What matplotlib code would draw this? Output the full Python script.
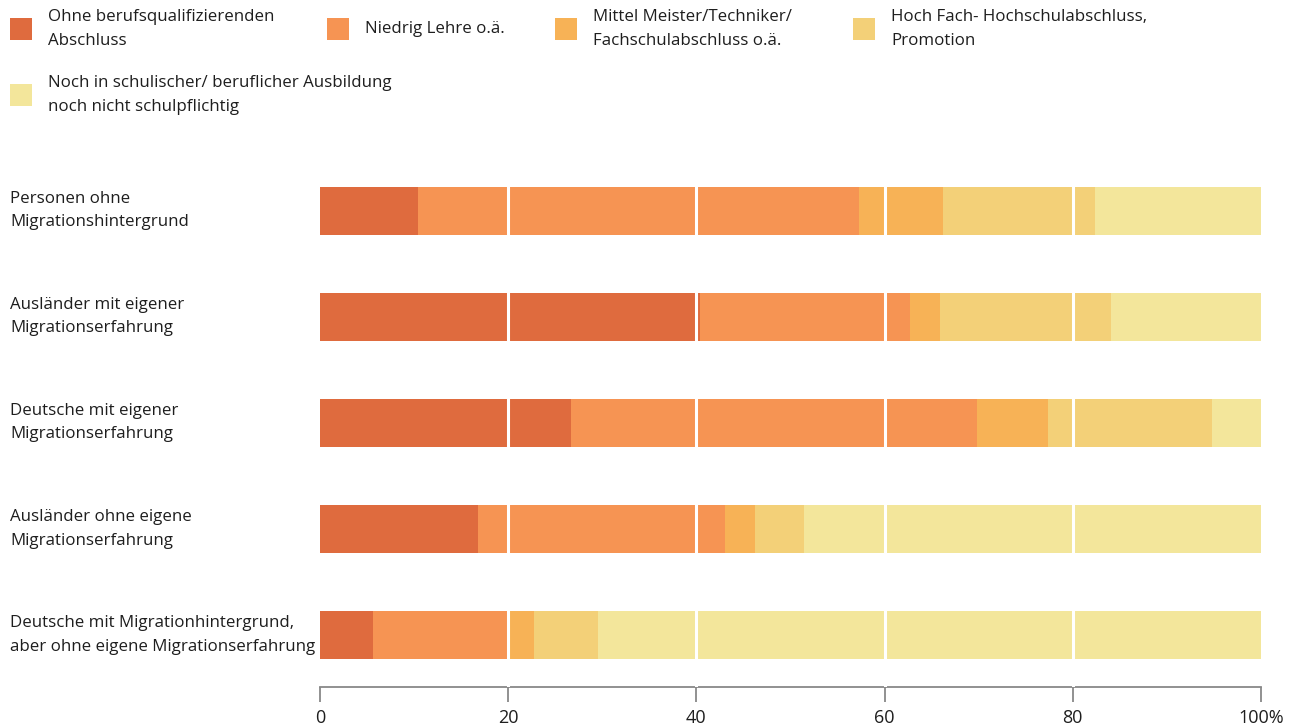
import matplotlib
matplotlib.use("Agg")
import matplotlib.pyplot as plt
from matplotlib.patches import Rectangle

plt.rcParams['font.family'] = ['Open Sans', 'DejaVu Sans']

groups = ["Personen ohne\nMigrationshintergrund",
          "Ausländer mit eigener\nMigrationserfahrung",
          "Deutsche mit eigener\nMigrationserfahrung",
          "Ausländer ohne eigene\nMigrationserfahrung",
          "Deutsche mit Migrationhintergrund,\naber ohne eigene Migrationserfahrung"]
categories = ["Ohne berufsqualifizierenden\nAbschluss",
              "Niedrig Lehre o.ä.",
              "Mittel Meister/Techniker/\nFachschulabschluss o.ä.",
              "Hoch Fach- Hochschulabschluss,\nPromotion",
              "Noch in schulischer/ beruflicher Ausbildung\nnoch nicht schulpflichtig"]
ohne = [10.4, 40.4, 26.7, 16.8, 5.6]
niedrig = [46.9, 22.3, 43.1, 26.2, 14.4]
mittel = [8.9, 3.2, 7.6, 3.2, 2.7]
hoch = [16.2, 18.2, 17.4, 5.2, 6.8]
noch = [17.6, 15.9, 5.2, 48.6, 70.5]
series = [ohne, niedrig, mittel, hoch, noch]
colors = ["#DF6B3E", "#F69453", "#F7B256", "#F3D078", "#F3E69B"]
xticks = [0, 20, 40, 60, 80, 100]
xticklabels = ["0", "20", "40", "60", "80", "100%"]

W, H = 1311, 728
fig = plt.figure(figsize=(W/100, H/100), dpi=100)
ax = fig.add_axes([320/W, 1-687/H, (1261-320)/W, (687-147)/H])

txtcol = "#1e1e1e"
fs = 12.2
left = [0]*len(groups)
for vals, col in zip(series, colors):
    ax.barh(range(len(groups)), vals, left=left, height=0.453, color=col, linewidth=0)
    left = [l + v for l, v in zip(left, vals)]

for x in xticks[1:-1]:
    ax.axvline(x, color="white", linewidth=2.2, zorder=3)

ax.set_xlim(0, 100)
ax.set_ylim(4.49, -0.6)
ax.set_xticks(xticks)
ax.set_xticklabels(xticklabels, fontsize=13, color=txtcol)
ax.tick_params(axis='x', direction='out', length=11, width=1.3, color="#888888", pad=5)
ax.set_yticks([])
for s in ["top", "right", "left"]:
    ax.spines[s].set_visible(False)
ax.spines["bottom"].set_color("#888888")
ax.spines["bottom"].set_linewidth(1.3)

for i, g in enumerate(groups):
    ax.text(-310/9.41, i, g, ha="left", va="center", fontsize=fs, color=txtcol,
            linespacing=1.6)

# legend
leg_pos = [(10, 18), (327, 18), (555, 18), (853, 18), (10, 84)]
for (lx, ly), cat, col in zip(leg_pos, categories, colors):
    fig.patches.append(Rectangle((lx/W, 1-(ly+22)/H), 22/W, 22/H, transform=fig.transFigure,
                                 color=col, linewidth=0))
    fig.text((lx+38)/W, 1-(ly+11)/H, cat,
             ha="left", va="center", fontsize=fs, color=txtcol, linespacing=1.6)

fig.savefig("out.png", dpi=100)
